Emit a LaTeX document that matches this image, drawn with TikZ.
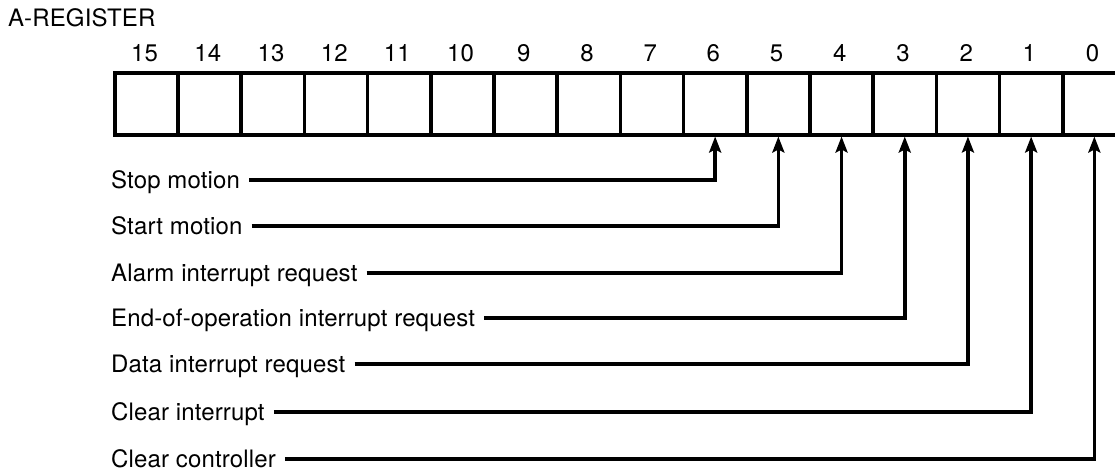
\documentclass[tikz,border=0pt]{standalone}
\usepackage{fontspec}
\setmainfont[LetterSpace=0.6]{TeX Gyre Heros}
\usetikzlibrary{arrows.meta}
\begin{document}
\begin{tikzpicture}[x=1pt,y=-1pt,
  cell/.style={draw, line width=3.5pt, minimum width=63.2pt, minimum height=62pt, inner sep=0pt, anchor=north west},
  bitnum/.style={font=\fontsize{24}{28}\selectfont, anchor=base, inner sep=0pt},
  lbl/.style={font=\fontsize{24}{28}\selectfont, anchor=west, inner sep=0pt, text height=16pt, text depth=0pt},
  regtitle/.style={font=\fontsize{24}{28}\selectfont, anchor=base west, inner sep=0pt},
  conn/.style={line width=3.5pt, -{Stealth[length=16pt,width=12pt,inset=3pt]}}]
\useasboundingbox (0,0) rectangle (1115,472);
\clip (0,0) rectangle (1115,472);
\node[regtitle] (title) at (8,26) {A-REGISTER};
\foreach \b in {0,...,15} {
  \pgfmathsetmacro\xx{113+63.2*(15-\b)}
  \node[cell] (c\b) at (\xx,71) {};
  \node[bitnum] (n\b) at (\xx+31.6,61) {\b};
}
\node[lbl] (l6) at (111,180) {Stop motion};
\node[lbl] (l5) at (111,226) {Start motion};
\node[lbl] (l4) at (111,273) {Alarm interrupt request};
\node[lbl] (l3) at (111,318) {End-of-operation interrupt request};
\node[lbl] (l2) at (111,364) {Data interrupt request};
\node[lbl] (l1) at (111,412) {Clear interrupt};
\node[lbl] (l0) at (111,459) {Clear controller};
\foreach \b in {0,...,6} {
  \draw[conn] ([xshift=9pt]l\b.east) -| (c\b.south);
}
\end{tikzpicture}
\end{document}
